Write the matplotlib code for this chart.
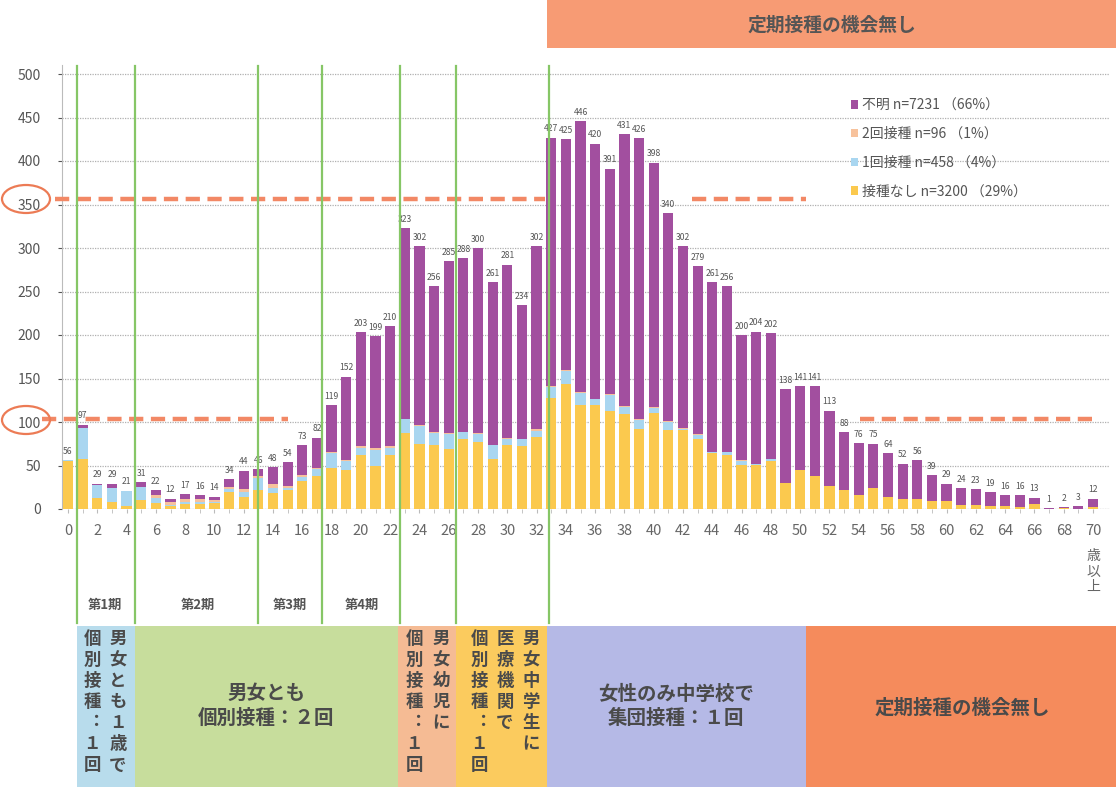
import matplotlib
matplotlib.use("Agg")
import matplotlib.pyplot as plt
from matplotlib.patches import Rectangle, Ellipse
from matplotlib.lines import Line2D
import numpy as np

plt.rcParams['font.family'] = ['Noto Sans CJK JP', 'DejaVu Sans']

# ---- data (age 0..70, 70 = 70歳以上) ----
ages = np.arange(71)
nashi = [55, 57, 13, 8, 4, 10, 7, 3, 6, 6, 7, 20, 14, 22, 18, 22, 32, 38, 47, 45,
         62, 50, 62, 87, 75, 73, 69, 81, 77, 57, 73, 72, 83, 128, 144, 119, 119, 113, 109, 92,
         110, 91, 91, 81, 64, 62, 51, 51, 55, 30, 45, 38, 26, 22, 16, 24, 14, 11, 12, 9,
         9, 5, 5, 3, 3, 2, 6, 0, 1, 0, 2]
once = [1, 36, 15, 16, 17, 15, 6, 2, 2, 2, 1, 3, 5, 14, 6, 2, 5, 8, 17, 10,
        8, 18, 8, 16, 20, 14, 17, 7, 9, 16, 8, 8, 7, 12, 15, 14, 7, 18, 8, 10,
        6, 9, 1, 4, 2, 3, 4, 1, 2, 0, 0, 0, 0, 0, 0, 0, 0, 0, 0, 0,
        0, 0, 0, 0, 0, 0, 0, 0, 0, 0, 0]
twice = [0, 0, 0, 0, 0, 0, 3, 3, 4, 3, 2, 2, 4, 2, 5, 3, 2, 1, 1, 1,
         2, 2, 2, 1, 1, 1, 1, 1, 1, 1, 1, 1, 2, 1, 1, 1, 1, 1, 1, 1,
         1, 1, 1, 1, 0, 1, 1, 0, 1, 0, 0, 0, 0, 0, 0, 0, 0, 0, 0, 0,
         0, 0, 0, 0, 0, 0, 0, 0, 0, 0, 0]
fumei = [0, 4, 1, 5, 0, 6, 6, 4, 5, 5, 4, 9, 21, 8, 19, 27, 34, 35, 54, 96,
         131, 129, 138, 219, 206, 168, 198, 199, 213, 187, 199, 153, 210, 286, 265, 312, 293, 259, 313, 323,
         281, 239, 209, 193, 195, 190, 144, 152, 144, 108, 96, 103, 87, 66, 60, 51, 50, 41, 44, 30,
         20, 19, 18, 16, 13, 14, 7, 1, 1, 3, 10]

legend_labels = ['不明 n=7231 （66%）', '2回接種 n=96 （1%）',
                 '1回接種 n=458 （4%）', '接種なし n=3200 （29%）']

W, H = 1116, 787
fig = plt.figure(figsize=(W / 100, H / 100), dpi=100)
fig.patch.set_facecolor('white')


def fx(px):
    return px / W


def fy(py):
    return 1 - py / H


# axes: x data 0 at px 68, 70 at px 1093 ; y 0 at px 509, 500 at px 74
xs = (1093 - 68) / 70.0
ys = (509 - 74) / 500.0
ax = fig.add_axes([fx(62), fy(509), (1110 - 62) / W, (509 - 65) / H])
ax.set_xlim((62 - 68) / xs, (1110 - 68) / xs)
ax.set_ylim(0, (509 - 65) / ys)

c_nashi, c_once, c_twice, c_fumei = '#fbc94e', '#a9d6f0', '#f7c29c', '#a24f9f'
bw = 0.7
b1 = ax.bar(ages, nashi, bw, color=c_nashi, zorder=3)
bottom = np.array(nashi)
b2 = ax.bar(ages, once, bw, bottom=bottom, color=c_once, zorder=3)
bottom = bottom + np.array(once)
b3 = ax.bar(ages, twice, bw, bottom=bottom, color=c_twice, zorder=3)
bottom = bottom + np.array(twice)
b4 = ax.bar(ages, fumei, bw, bottom=bottom, color=c_fumei, zorder=3)
totals = bottom + np.array(fumei)

for a, t in zip(ages, totals):
    ax.text(a, t + 5, str(t), ha='center', va='bottom', fontsize=6.2, color='#555555', zorder=4)

# grid and axes styling
ax.set_yticks(range(0, 501, 50))
ax.yaxis.grid(True, color='#b0b0b0', linestyle=(0, (1, 1)), linewidth=0.9, zorder=0)
ax.set_xticks(range(0, 71, 2))
ax.set_xticks(range(0, 71), minor=True)
for s in ['top', 'right', 'bottom']:
    ax.spines[s].set_visible(False)
ax.spines['left'].set_color('#bbbbbb')
ax.tick_params(axis='y', length=3, pad=12, labelsize=10, colors='#555555')
ax.tick_params(axis='x', which='both', length=3, color='#bbbbbb', pad=8, labelsize=10.5, labelcolor='#666666')
ax.axhline(0, color='#bbbbbb', linewidth=0.8, zorder=2)

# orange dashed reference lines
dash_kw = dict(color='#f28865', linewidth=3.2, dashes=(3.2, 1.7), clip_on=False, zorder=5)
ax.plot([(55 - 68) / xs, (545 - 68) / xs], [356, 356], **dash_kw)
ax.plot([(692 - 68) / xs, (806 - 68) / xs], [356, 356], **dash_kw)
ax.plot([(42 - 68) / xs, (288 - 68) / xs], [103, 103], **dash_kw)
ax.plot([(860 - 68) / xs, (1095 - 68) / xs], [103, 103], **dash_kw)

# green dividers
for px in [77, 135, 258, 322, 400, 456, 549]:
    fig.add_artist(Line2D([fx(px), fx(px)], [fy(66), fy(623)], color='#86c666', linewidth=1.6, zorder=6))

# legend
handles = [b4, b3, b2, b1]
leg = ax.legend(handles, legend_labels, loc='upper left', bbox_to_anchor=(fx(838), fy(86)),
                bbox_transform=fig.transFigure, frameon=False, fontsize=10,
                handlelength=0.55, handleheight=0.55, handletextpad=0.3, labelspacing=1.05)
for t in leg.get_texts():
    t.set_color('#555555')

# circles around 350 and 100
for cy in [199, 420]:
    fig.add_artist(Ellipse((fx(26), fy(cy)), 48 / W, 28 / H, transform=fig.transFigure,
                           fill=False, edgecolor='#ec7b55', linewidth=1.6))

# period labels
for cx, lab in [(105, '第1期'), (198, '第2期'), (290, '第3期'), (362, '第4期')]:
    fig.text(fx(cx), fy(605), lab, ha='center', va='center', fontsize=9.5, fontweight='bold', color='#555555')
fig.text(fx(1093), fy(549), '歳\n以\n上', ha='center', va='top', fontsize=10, color='#666666', linespacing=1.15)

# header box
fig.add_artist(Rectangle((fx(547), fy(48)), (1116 - 547) / W, 48 / H, transform=fig.transFigure,
                         facecolor='#f79b74', edgecolor='none'))
fig.text(fx(832), fy(25), '定期接種の機会無し', ha='center', va='center', fontsize=13.5,
         fontweight='bold', color='#555555')

# bottom boxes
boxes = [(77, 135, '#b8dcec'), (135, 398, '#c7dd9c'), (398, 456, '#f5bb94'),
         (456, 547, '#fbcb5e'), (547, 806, '#b5b9e6'), (806, 1116, '#f58b5c')]
for x0, x1, c in boxes:
    fig.add_artist(Rectangle((fx(x0), fy(787)), (x1 - x0) / W, (787 - 626) / H,
                             transform=fig.transFigure, facecolor=c, edgecolor='none'))

vkw = dict(ha='center', va='top', fontsize=12.5, fontweight='bold', color='#4a4a4a', linespacing=1.22)
col_one = '個\n別\n接\n種\n︓\n１\n回'
fig.text(fx(118), fy(630), '男\n女\nと\nも\n１\n歳\nで', **vkw)
fig.text(fx(92), fy(630), col_one, **vkw)
fig.text(fx(441), fy(630), '男\n女\n幼\n児\nに', **vkw)
fig.text(fx(414), fy(630), col_one, **vkw)
fig.text(fx(531), fy(630), '男\n女\n中\n学\n生\nに', **vkw)
fig.text(fx(505), fy(630), '医\n療\n機\n関\nで', **vkw)
fig.text(fx(479), fy(630), col_one, **vkw)

hkw = dict(ha='center', va='center', fontsize=14, fontweight='bold', color='#4a4a4a', linespacing=1.35)
fig.text(fx(266), fy(706), '男女とも\n個別接種：２回', **hkw)
fig.text(fx(676), fy(706), '女性のみ中学校で\n集団接種：１回', **hkw)
fig.text(fx(962), fy(708), '定期接種の機会無し', ha='center', va='center', fontsize=14,
         fontweight='bold', color='#4a4a4a')

fig.savefig('out.png', dpi=100)
